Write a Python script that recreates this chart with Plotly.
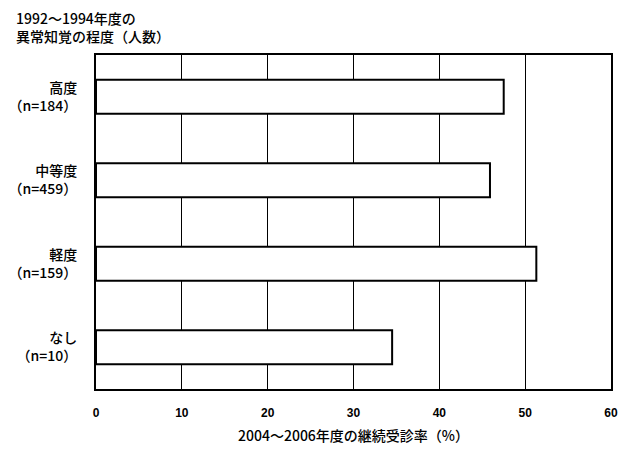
import plotly.graph_objects as go

categories = ["高度", "中等度", "軽度", "なし"]
counts = [184, 459, 159, 10]
rates = [47.5, 45.9, 51.3, 34.5]
x_ticks = [0, 10, 20, 30, 40, 50, 60]

labels = [f"{c}<br>（n={n}）" for c, n in zip(categories, counts)]
FONT = "Noto Sans CJK JP, sans-serif"

fig = go.Figure(go.Bar(
    x=rates, y=labels, orientation="h",
    marker=dict(color="white", line=dict(color="black", width=2)),
    width=0.41, hoverinfo="skip",
))

fig.update_layout(
    width=623, height=450,
    margin=dict(l=96, r=12, t=55, b=61, autoexpand=False),
    paper_bgcolor="white", plot_bgcolor="white",
    font=dict(family=FONT, color="black", size=14, weight=500),
    showlegend=False,
    xaxis=dict(
        range=[0, 60], tickvals=x_ticks, ticktext=[f"<b>{v}</b>" for v in x_ticks],
        showgrid=True, gridcolor="black", gridwidth=1,
        showline=True, linecolor="black", linewidth=2, mirror=True,
        zeroline=False, ticks="", ticklabelstandoff=12, automargin=False,
        tickfont=dict(size=12, family="Liberation Sans, Arial, sans-serif"),
        title=dict(text="2004～2006年度の継続受診率（%）", standoff=12,
                   font=dict(size=14, weight=500)),
    ),
    yaxis=dict(
        autorange="reversed", showgrid=False, automargin=False,
        showline=True, linecolor="black", linewidth=2, mirror=True,
        ticks="", ticklabelstandoff=14, tickfont=dict(size=14, weight=500),
    ),
    annotations=[dict(
        text="1992～1994年度の<br>異常知覚の程度（人数）",
        xref="paper", yref="paper", x=-82/515, y=1 + 49/334,
        xanchor="left", yanchor="top", align="left", showarrow=False,
        font=dict(size=14, weight=500),
    )],
)

fig.write_html("out.html", config={"displayModeBar": False},
               post_script="document.body.style.margin='0';")
